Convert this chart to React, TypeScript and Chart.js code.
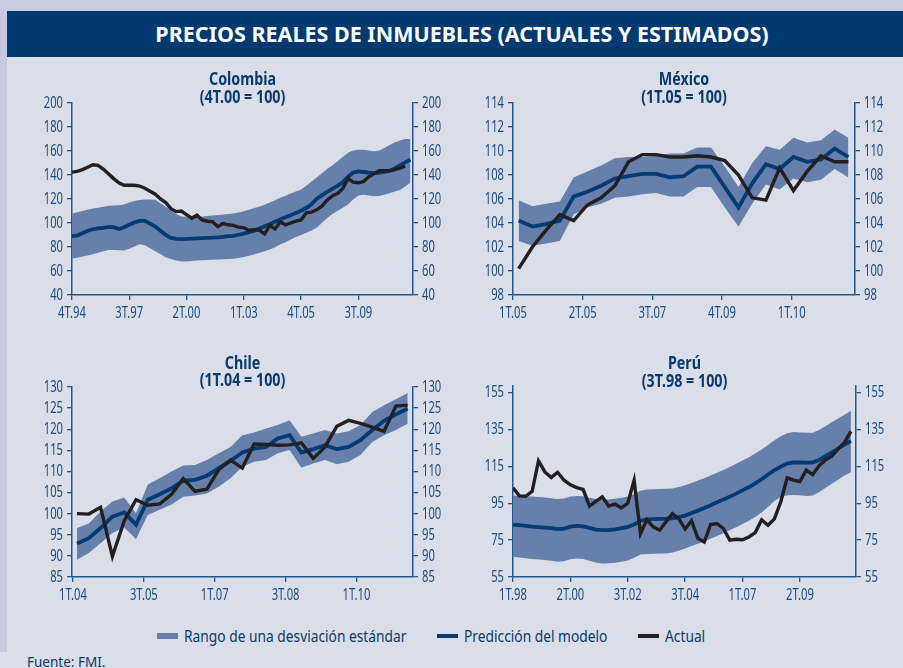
import React, { useEffect, useRef } from 'react';
import { Chart, registerables } from 'chart.js';

Chart.register(...registerables);

const FAM = '"Noto Sans", "DejaVu Sans", sans-serif';
const NAVY = '#0c3a6c';
const AXIS = '#24558c';
const TICK = '#1d4a7f';
const BAND = '#6780ab';
const MODEL = '#003b73';
const ACTUAL = '#231f20';
const BG = '#d9dee9';
const STRIP = '#c7cbe0';
const HEADER = '#003a70';

// ---------- Colombia (quarterly, 4T.94 onward) ----------
const colXLabels = ['4T.94', '3T.97', '2T.00', '1T.03', '4T.05', '3T.09'];
const colYTicks = [40, 60, 80, 100, 120, 140, 160, 180, 200];
const colUpper = [108, 109, 110, 111, 112, 112.8, 113.6, 114.3, 114.5, 114.8, 115.5, 117, 118.3, 119.2, 119.5, 119.5, 119.3, 116.5, 113.5, 110.5, 107.5, 105.5, 105.3, 105.3, 105.4, 105.5, 105.8, 106.2, 106.6, 107, 107.5, 108, 108.8, 109.8, 111, 112.5, 113.7, 115.3, 117, 119, 121, 122.8, 124.5, 126.2, 128, 131, 134.5, 138, 141.5, 145, 148, 151.5, 155, 158.5, 160.5, 161, 161, 160.5, 159.8, 160.5, 162.5, 165, 167, 168.8, 170, 170];
const colLower = [70.5, 71, 72, 73, 74, 75.3, 76.5, 77.5, 77.5, 77.2, 77, 78.5, 80.5, 82.2, 81.5, 79, 76.5, 74, 71.5, 70, 68.8, 68, 68, 68.3, 68.7, 69, 69.2, 69.4, 69.5, 69.7, 69.9, 70.2, 70.9, 71.7, 72.7, 73.8, 75.2, 76.5, 78, 79.8, 82, 84, 86.3, 88.3, 90, 91.8, 93.8, 96, 100, 104, 107.5, 110, 112.8, 115.5, 119.5, 123, 123.5, 123, 122.3, 122.5, 123.5, 124.8, 126.3, 127.6, 130.5, 133.5];
const colModel = [89, 89.5, 91.5, 93.5, 94.8, 95.5, 96, 96.8, 96.5, 95, 96.5, 98.5, 100.5, 101.8, 101.8, 99.5, 97, 93.5, 90, 87.5, 86.8, 86.5, 86.7, 87, 87.2, 87.4, 87.6, 87.8, 88.1, 88.5, 89, 89.3, 90.2, 91.2, 92.3, 93.5, 95.5, 97.2, 99, 101, 103, 104.8, 106.5, 108.3, 110.2, 112.5, 115.5, 120, 123, 126, 128.5, 131, 134, 138.5, 142, 143, 142.5, 142, 141.5, 141.7, 142.5, 143.5, 145.5, 148, 150.5, 152.7];
const colActual = [142.4, 143, 144.5, 146.5, 148.5, 148, 145, 141, 137, 133.5, 131.5, 131.5, 131.5, 130.8, 129, 126.5, 124, 120, 117, 112, 109.5, 110, 107, 104, 106.5, 102.5, 101.5, 101, 97, 99.5, 98.5, 98, 96.5, 96, 94, 94.5, 94, 91, 98, 95, 101, 98.4, 100, 101.5, 102.5, 108.5, 109, 111, 114, 119, 122.5, 124.5, 128.5, 137, 134, 133.5, 134.6, 138.5, 141, 143.5, 143.5, 143.5, 144.5, 145.7, 147.5];

// ---------- México ----------
const mexXLabels = ['1T.05', '2T.05', '3T.07', '4T.09', '1T.10'];
const mexYTicks = [98, 100, 102, 104, 106, 108, 110, 112, 114];
const mexUpper = [105.9, 105.4, 105.6, 105.8, 107.8, 108.3, 108.8, 109.4, 109.5, 109.5, 109.6, 109.8, 109.8, 110.3, 110.3, 108.7, 107.0, 109.0, 110.4, 110.1, 111.1, 110.7, 110.9, 111.8, 111.1];
const mexLower = [102.5, 102.1, 102.3, 102.5, 104.7, 105.3, 105.6, 106.1, 106.2, 106.4, 106.5, 106.2, 106.2, 107.0, 107.0, 105.3, 103.7, 105.6, 107.2, 106.8, 107.7, 107.4, 107.6, 108.5, 107.8];
const mexModel = [104.2, 103.7, 103.9, 104.2, 106.2, 106.6, 107.1, 107.7, 107.9, 108.1, 108.1, 107.8, 107.9, 108.7, 108.7, 107.0, 105.3, 107.3, 108.9, 108.5, 109.5, 109.1, 109.3, 110.2, 109.5];
const mexActual = [100.2, 102.0, 103.4, 104.7, 104.2, 105.5, 106.1, 107.1, 109.1, 109.7, 109.7, 109.5, 109.5, 109.6, 109.5, 109.2, 108.0, 106.1, 105.9, 108.6, 106.7, 108.3, 109.6, 109.1, 109.1];

// ---------- Chile ----------
const chiXLabels = ['1T.04', '3T.05', '1T.07', '3T.08', '1T.10'];
const chiYTicks = [85, 90, 95, 100, 105, 110, 115, 120, 125, 130];
const chiUpper = [96.6, 97.7, 100.5, 102.9, 103.8, 100.1, 106.9, 108.4, 110.0, 111.4, 111.5, 112.7, 114.3, 115.8, 118.6, 119.2, 120.2, 121.0, 122.1, 118.2, 119.0, 119.8, 119.0, 119.5, 121.0, 124.1, 125.7, 127.1, 128.6];
const chiLower = [89.1, 90.7, 93.0, 95.4, 96.7, 94.0, 99.7, 100.9, 102.2, 104.0, 104.3, 104.8, 106.4, 108.4, 111.1, 112.3, 112.7, 114.3, 115.1, 110.9, 111.9, 112.7, 111.7, 112.3, 113.9, 117.0, 118.6, 119.8, 121.3];
const chiModel = [92.9, 94.2, 96.6, 99.3, 100.3, 97.4, 103.3, 104.6, 106.0, 107.8, 108.0, 109.0, 110.8, 112.5, 114.5, 115.4, 115.8, 117.8, 118.6, 114.5, 115.3, 116.2, 115.3, 115.8, 117.4, 119.8, 122.0, 123.5, 124.9];
const chiActual = [100.0, 99.9, 101.5, 89.9, 98.3, 103.3, 102.0, 102.3, 104.6, 108.3, 105.3, 105.8, 110.4, 112.7, 110.8, 116.5, 116.4, 116.2, 116.3, 116.8, 113.1, 115.8, 120.7, 122.1, 121.4, 120.5, 119.5, 125.5, 125.7];

// ---------- Perú ----------
const perXLabels = ['1T.98', '2T.00', '3T.02', '3T.04', '1T.07', '2T.09'];
const perYTicks = [55, 75, 95, 115, 135, 155];
const perUpper = [99.2, 99.0, 98.8, 98.6, 98.4, 98.1, 97.7, 97.3, 97.6, 98.7, 99.0, 98.8, 98.0, 97.3, 97.0, 97.1, 97.4, 98.0, 98.6, 100.0, 101.8, 102.5, 102.6, 102.7, 102.8, 103.0, 103.8, 104.8, 106.0, 107.3, 108.6, 110.0, 111.5, 113.0, 114.6, 116.4, 118.2, 120.0, 122.0, 124.2, 126.6, 129.2, 131.4, 133.0, 133.6, 133.4, 133.2, 133.3, 134.8, 136.8, 138.9, 141.0, 143.0, 145.2];
const perLower = [66.0, 65.6, 65.2, 64.8, 64.5, 64.2, 63.8, 63.3, 63.6, 64.6, 65.0, 64.8, 63.8, 62.8, 62.3, 62.4, 62.7, 63.3, 64.0, 65.5, 67.2, 67.5, 67.6, 67.7, 67.8, 68.3, 69.3, 70.5, 71.8, 73.0, 74.3, 75.7, 77.2, 78.7, 80.3, 82.0, 83.7, 85.5, 87.6, 90.0, 93.0, 96.2, 98.4, 99.3, 99.5, 99.3, 99.0, 99.2, 101.0, 103.3, 105.6, 107.8, 110.0, 111.8];
const perModel = [83.4, 83.1, 82.7, 82.3, 82.1, 81.8, 81.5, 81.0, 81.2, 82.3, 82.7, 82.5, 81.6, 80.7, 80.4, 80.5, 80.8, 81.5, 82.2, 83.5, 85.5, 86.3, 86.4, 86.5, 86.6, 86.8, 87.5, 88.3, 89.7, 91.0, 92.4, 93.9, 95.5, 97.1, 98.5, 100.2, 102.0, 103.8, 105.8, 108.0, 110.6, 113.0, 114.8, 116.5, 117.2, 117.1, 117.0, 117.1, 118.5, 120.5, 122.6, 124.7, 126.8, 128.8];
const perActual = [103.4, 99, 98.8, 101.5, 118, 112, 109, 111.8, 107.5, 105, 103.5, 102.5, 93.5, 96, 98.5, 93.5, 94.5, 92.5, 95, 107.5, 78.5, 86, 82.2, 80.4, 84.9, 89.4, 86.7, 81, 85.5, 76, 74, 83.5, 84, 81.3, 75, 75.5, 75.2, 76.7, 79.1, 86, 83.1, 86.5, 95.8, 108.8, 107.5, 106.8, 113, 110.5, 115.3, 118.5, 120.5, 124.5, 128, 134];

type PanelCfg = {
  titles: string[];
  titleY: number[];
  upper: number[]; lower: number[]; model: number[]; actual: number[];
  xLabels: string[]; xMin: number; xMax: number; xStart: number; xStep: number;
  yTicks: number[]; yMin: number; yMax: number;
  box: { left: number; top: number; w: number; h: number };
  padTop: number; leftW: number; rightW: number; xH: number;
};

const panels: PanelCfg[] = [
  {
    titles: ['Colombia', '(4T.00 = 100)'], titleY: [20.5, 38],
    upper: colUpper, lower: colLower, model: colModel, actual: colActual,
    xLabels: colXLabels, xMin: 0, xMax: 65.5, xStart: 0, xStep: 11,
    yTicks: colYTicks, yMin: 40, yMax: 200,
    box: { left: 0, top: 60, w: 450, h: 275 }, padTop: 43, leftW: 72, rightW: 37, xH: 40,
  },
  {
    titles: ['México', '(1T.05 = 100)'], titleY: [20.5, 38],
    upper: mexUpper, lower: mexLower, model: mexModel, actual: mexActual,
    xLabels: mexXLabels, xMin: -0.41, xMax: 24.48, xStart: -0.41, xStep: 5.07,
    yTicks: mexYTicks, yMin: 98, yMax: 114,
    box: { left: 450, top: 60, w: 453, h: 275 }, padTop: 43, leftW: 63, rightW: 48, xH: 40,
  },
  {
    titles: ['Chile', '(1T.04 = 100)'], titleY: [19, 36.5],
    upper: chiUpper, lower: chiLower, model: chiModel, actual: chiActual,
    xLabels: chiXLabels, xMin: -0.42, xMax: 28.45, xStart: -0.34, xStep: 6,
    yTicks: chiYTicks, yMin: 85, yMax: 130,
    box: { left: 0, top: 345, w: 450, h: 270 }, padTop: 42, leftW: 72, rightW: 37, xH: 38,
  },
  {
    titles: ['Perú', '(3T.98 = 100)'], titleY: [19.5, 37],
    upper: perUpper, lower: perLower, model: perModel, actual: perActual,
    xLabels: perXLabels, xMin: 0, xMax: 53.8, xStart: 0, xStep: 9,
    yTicks: perYTicks, yMin: 55, yMax: 158.6,
    box: { left: 450, top: 345, w: 453, h: 270 }, padTop: 41, leftW: 63, rightW: 47, xH: 38,
  },
];

// The reference uses a condensed face; none is installed, so canvas text is
// narrowed horizontally around its anchor point (alignment is preserved).
const condensePlugin = {
  id: 'condense',
  beforeInit(chart: any) {
    const ctx = chart.ctx as any;
    if (ctx.__condensed) return;
    ctx.__condensed = true;
    const orig = ctx.fillText;
    ctx.fillText = function (text: string, x: number, y: number, maxWidth?: number) {
      const sx = this.__sx != null ? this.__sx : 0.66;
      this.save();
      this.translate(x, y);
      this.scale(sx, 1);
      if (maxWidth === undefined) orig.call(this, text, 0, 0);
      else orig.call(this, text, 0, 0, maxWidth / sx);
      this.restore();
    };
  },
};

const panelTitlePlugin = {
  id: 'panelTitle',
  afterDraw(chart: any, _args: any, opts: any) {
    const { ctx, chartArea } = chart;
    const cx = (chartArea.left + chartArea.right) / 2;
    ctx.save();
    ctx.__sx = 0.84;
    ctx.font = `bold 17px ${FAM}`;
    ctx.fillStyle = NAVY;
    ctx.textAlign = 'center';
    ctx.textBaseline = 'middle';
    (opts.lines as string[]).forEach((t, i) => ctx.fillText(t, cx, opts.y[i]));
    ctx.__sx = null;
    ctx.restore();
  },
};

function Panel({ cfg }: { cfg: PanelCfg }) {
  const ref = useRef<HTMLCanvasElement>(null);
  useEffect(() => {
    if (!ref.current) return;
    const toXY = (arr: number[]) => arr.map((v, i) => ({ x: i, y: v }));
    const tickFont = { family: FAM, size: 17 };
    const yAxis = (position: 'left' | 'right', width: number) => ({
      type: 'linear' as const,
      position,
      min: cfg.yMin,
      max: cfg.yMax,
      afterBuildTicks: (s: any) => { s.ticks = cfg.yTicks.map((v) => ({ value: v })); },
      afterFit: (s: any) => { s.width = width; },
      grid: { drawOnChartArea: false, drawTicks: true, tickLength: 5, color: AXIS, lineWidth: 1.3 },
      border: { display: true, color: AXIS, width: 1.5 },
      ticks: { font: tickFont, color: TICK, padding: 4, autoSkip: false },
    });
    const chart = new Chart(ref.current, {
      type: 'line',
      data: {
        datasets: [
          { label: 'Rango superior', data: toXY(cfg.upper), fill: '+1', backgroundColor: BAND, borderWidth: 0, borderColor: 'rgba(0,0,0,0)', pointRadius: 0, order: 3, xAxisID: 'x', yAxisID: 'y' },
          { label: 'Rango inferior', data: toXY(cfg.lower), fill: false, borderWidth: 0, borderColor: 'rgba(0,0,0,0)', pointRadius: 0, order: 4, xAxisID: 'x', yAxisID: 'y' },
          { label: 'Predicción del modelo', data: toXY(cfg.model), fill: false, borderColor: MODEL, borderWidth: 3.8, pointRadius: 0, order: 2, xAxisID: 'x', yAxisID: 'y' },
          { label: 'Actual', data: toXY(cfg.actual), fill: false, borderColor: ACTUAL, borderWidth: 3.4, pointRadius: 0, order: 1, xAxisID: 'x', yAxisID: 'y' },
        ],
      },
      options: {
        responsive: false,
        animation: false,
        devicePixelRatio: 1,
        layout: { padding: { top: cfg.padTop, left: 0, right: 0, bottom: 0 } },
        plugins: {
          legend: { display: false },
          tooltip: { enabled: false },
          // @ts-ignore
          panelTitle: { lines: cfg.titles, y: cfg.titleY },
        },
        scales: {
          x: {
            type: 'linear',
            min: cfg.xMin,
            max: cfg.xMax,
            afterBuildTicks: (s: any) => { s.ticks = cfg.xLabels.map((_, k) => ({ value: cfg.xStart + k * cfg.xStep })); },
            afterFit: (s: any) => { s.height = cfg.xH; },
            grid: { drawOnChartArea: false, drawTicks: true, tickLength: 5, color: AXIS, lineWidth: 1.3 },
            border: { display: true, color: AXIS, width: 1.5 },
            ticks: { font: tickFont, color: TICK, padding: 3, autoSkip: false, maxRotation: 0, callback: (_v: any, i: number) => cfg.xLabels[i] },
          },
          y: yAxis('left', cfg.leftW),
          y2: yAxis('right', cfg.rightW),
        },
      } as any,
      plugins: [condensePlugin as any, panelTitlePlugin as any],
    });
    return () => chart.destroy();
  }, [cfg]);
  const { left, top, w, h } = cfg.box;
  return (
    <canvas
      ref={ref}
      width={w}
      height={h}
      style={{ position: 'absolute', left, top, width: w, height: h }}
    />
  );
}

const legendItems = [
  { label: 'Rango de una desviación estándar', color: BAND, thick: 6, swatchX: 157, textX: 184 },
  { label: 'Predicción del modelo', color: MODEL, thick: 4, swatchX: 437, textX: 464 },
  { label: 'Actual', color: ACTUAL, thick: 4, swatchX: 638, textX: 665 },
];

export default function App() {
  return (
    <div
      style={{
        position: 'fixed', left: 0, top: 0, width: 903, height: 668,
        overflow: 'hidden', background: BG, fontFamily: FAM,
      }}
    >
      <div style={{ position: 'absolute', left: 0, top: 0, width: 903, height: 11, background: STRIP }} />
      <div style={{ position: 'absolute', left: 0, top: 0, width: 7, height: 652, background: STRIP }} />
      <div
        style={{
          position: 'absolute', left: 7, top: 11, width: 910, height: 46, background: HEADER,
          color: '#ffffff', fontWeight: 'bold', fontSize: 21.5, lineHeight: '46px', textAlign: 'center',
          fontFamily: FAM,
        }}
      >
        PRECIOS REALES DE INMUEBLES (ACTUALES Y ESTIMADOS)
      </div>
      {panels.map((p, i) => <Panel key={i} cfg={p} />)}
      {legendItems.map((it, i) => (
        <React.Fragment key={i}>
          <div
            style={{
              position: 'absolute', left: it.swatchX, top: 635.5 - it.thick / 2, width: 21, height: it.thick,
              background: it.color,
            }}
          />
          <div
            style={{
              position: 'absolute', left: it.textX, top: 624, height: 24, lineHeight: '24px',
              fontSize: 17, color: NAVY, whiteSpace: 'nowrap',
              transform: 'scaleX(0.81)', transformOrigin: '0 50%',
            }}
          >
            {it.label}
          </div>
        </React.Fragment>
      ))}
      <div
        style={{
          position: 'absolute', left: 27, top: 651, fontSize: 15, lineHeight: '20px', color: NAVY, whiteSpace: 'nowrap',
          transform: 'scaleX(0.9)', transformOrigin: '0 50%',
        }}
      >
        Fuente: FMI.
      </div>
    </div>
  );
}
